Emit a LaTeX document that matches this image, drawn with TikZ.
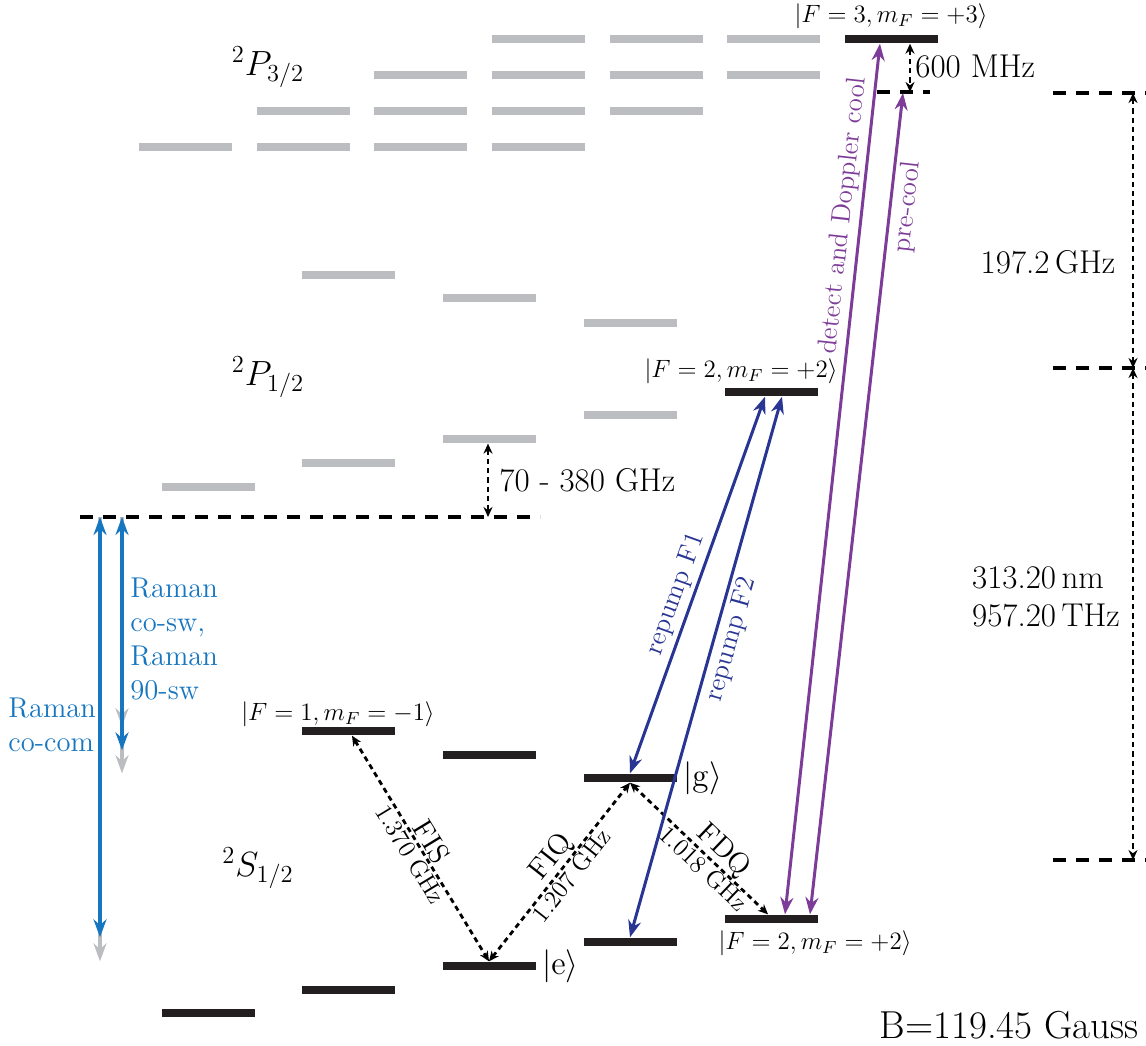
\RequirePackage{fix-cm}
\documentclass[tikz,border=0pt]{standalone}
\usepackage{tikz}
\usetikzlibrary{arrows.meta,positioning,calc}
\usepackage{xcolor}
\definecolor{levelgray}{HTML}{BBBDC0}
\definecolor{levelblack}{HTML}{231F20}
\definecolor{ramanblue}{HTML}{1776C0}
\definecolor{repumpblue}{HTML}{283593}
\definecolor{coolpurple}{HTML}{7D3C98}

\begin{document}
\begin{tikzpicture}[
  x=0.5pt, y=-0.5pt,
  font=\fontsize{12.5}{15}\selectfont,
  graylevel/.style={fill=levelgray, minimum width=46.5pt, minimum height=4.2pt, inner sep=0pt},
  blacklevel/.style={fill=levelblack, minimum width=46.5pt, minimum height=4.3pt, inner sep=0pt},
  levelline/.style={line width=1.8pt, dash pattern=on 6.5pt off 5pt},
  dimarrow/.style={line width=1.4pt, dash pattern=on 2.6pt off 2pt, >={Stealth[length=5pt,width=4.5pt]}, <->},
  raman/.style={ramanblue, line width=1.6pt, >={Stealth[length=9pt,width=6.5pt]}, <->},
  ramanghost/.style={levelgray, line width=1.6pt, >={Stealth[length=9pt,width=6.5pt]}, ->},
  repump/.style={repumpblue, line width=1.5pt, >={Stealth[length=8.5pt,width=6.5pt]}, <->},
  cooling/.style={coolpurple, line width=1.5pt, >={Stealth[length=8.5pt,width=6.5pt]}, <->},
  statelabel/.style={font=\fontsize{12.5}{15}\selectfont, inner sep=1pt},
  bigtext/.style={font=\fontsize{16.5}{19}\selectfont, inner sep=1pt},
  termlabel/.style={font=\fontsize{17.5}{20}\selectfont, inner sep=1pt},
  ramantext/.style={font=\fontsize{14.3}{17}\selectfont, text=ramanblue, align=left, inner sep=1pt},
  transname/.style={font=\fontsize{14.5}{16}\selectfont, inner sep=0.5pt, sloped},
  transfreq/.style={font=\fontsize{12.3}{14}\selectfont, inner sep=0.5pt, sloped},
  repumplabel/.style={font=\fontsize{13.5}{16}\selectfont, text=repumpblue, inner sep=2pt, sloped},
  coollabel/.style={font=\fontsize{13.5}{16}\selectfont, text=coolpurple, inner sep=2pt, sloped}
]
\useasboundingbox (0,0) rectangle (1146,1045);

\node[graylevel] (pa1) at (185,147) {};
\node[graylevel] (pb1) at (303,147) {};
\node[graylevel] (pb2) at (303,111) {};
\node[graylevel] (pc1) at (420,147) {};
\node[graylevel] (pc2) at (420,111) {};
\node[graylevel] (pc3) at (420,75) {};
\node[graylevel] (pd1) at (538,147) {};
\node[graylevel] (pd2) at (538,111) {};
\node[graylevel] (pd3) at (538,75) {};
\node[graylevel] (pd4) at (538,39) {};
\node[graylevel] (pe2) at (656,111) {};
\node[graylevel] (pe3) at (656,75) {};
\node[graylevel] (pe4) at (656,39) {};
\node[graylevel] (pf3) at (773,75) {};
\node[graylevel] (pf4) at (773,39) {};
\node[blacklevel] (pgtop) at (891,39) {};

\node[graylevel] (qa) at (208,487) {};
\node[graylevel] (qb1) at (348,463) {};
\node[graylevel] (qb2) at (348,275) {};
\node[graylevel] (qc1) at (489,439) {};
\node[graylevel] (qc2) at (489,298) {};
\node[graylevel] (qd1) at (630,415) {};
\node[graylevel] (qd2) at (630,323) {};
\node[blacklevel] (qtop) at (771,392) {};

\node[blacklevel] (sa) at (208,1013) {};
\node[blacklevel] (sb1) at (348,990) {};
\node[blacklevel] (sb2) at (348,731) {};
\node[blacklevel] (se) at (489,966) {};
\node[blacklevel] (sc2) at (489,755) {};
\node[blacklevel] (sd1) at (630,942) {};
\node[blacklevel] (sg) at (630,778) {};
\node[blacklevel] (sf) at (771,919) {};

\node[statelabel] (lblF3) at (891,16) {$|F=3,m_F=+3\rangle$};
\node[statelabel] (lblF2up) at (741,371) {$|F=2,m_F=+2\rangle$};
\node[statelabel] (lblF1) at (338,714) {$|F=1,m_F=-1\rangle$};
\node[statelabel] (lblF2dn) at (815,943) {$|F=2,m_F=+2\rangle$};
\node[bigtext, right=2pt of se] (kete) {$|\mathrm{e}\rangle$};
\node[bigtext, right=2pt of sg] (ketg) {$|\mathrm{g}\rangle$};

\node[termlabel] (tP32) at (268,67) {${}^2P_{3/2}$};
\node[termlabel] (tP12) at (268,377) {${}^2P_{1/2}$};
\node[termlabel] (tS12) at (258,868) {${}^2S_{1/2}$};

\coordinate (virtL) at (80,517);
\coordinate (virtR) at (540,517);
\coordinate (virtMid) at (488,517);
\coordinate (fsL) at (877,92);
\coordinate (fsR) at (930,92);
\coordinate (fsMid) at (910,92);
\coordinate (fsTip) at (903,93);
\coordinate (refP32L) at (1053,93);
\coordinate (refP32R) at (1146,93);
\coordinate (refP12L) at (1053,368);
\coordinate (refP12R) at (1146,368);
\coordinate (refS12L) at (1053,860);
\coordinate (refS12R) at (1146,860);
\coordinate (dP32) at (1133,93);
\coordinate (dP12) at (1133,368);
\coordinate (dS12) at (1133,860);
\coordinate (ramA) at (100,517);
\coordinate (ramB) at (122,517);

\draw[levelline] (virtL) -- (virtR);
\draw[levelline] (fsL) -- (fsR);
\draw[levelline] (refP32L) -- (refP32R);
\draw[levelline] (refP12L) -- (refP12R);
\draw[levelline] (refS12L) -- (refS12R);

\draw[dimarrow] (pgtop.south -| fsMid) -- (fsMid);
\draw[dimarrow] (qc1.south -| virtMid) -- (virtMid);
\draw[dimarrow] (dP32) -- (dP12);
\draw[dimarrow] (dP12) -- (dS12);

\node[bigtext, anchor=west] (lbl600) at (913,66) {600 MHz};
\node[bigtext, anchor=west] (lbl70) at (497,480) {70 - 380 GHz};
\node[bigtext] (lbl197) at (1048,262) {197.2\,GHz};
\node[bigtext, align=left] (lbl313) at (1046,597) {313.20\,nm\\957.20\,THz};
\node[bigtext, anchor=east, font=\fontsize{19.5}{22}\selectfont] (lblB) at (1141,1025) {B=119.45 Gauss};

\draw[ramanghost] (ramB) -- (ramB |- sb2.north);
\draw[ramanghost] (ramB) -- (ramB |- sg.north);
\draw[ramanghost] (ramA) -- (ramA |- se.north);
\draw[raman] (ramA) -- (ramA |- sd1.north);
\draw[raman] (ramB) -- (ramB |- sc2.north);
\node[ramantext, anchor=west] (lblcosw) at (128,639) {Raman\\co-sw,\\Raman\\90-sw};
\node[ramantext, anchor=west] (lblcocom) at (6,725) {Raman\\co-com};

\draw[dimarrow] ([xshift=2pt]sb2.south) -- node[transname, above] {FIS} node[transfreq, below] {1.370 GHz} (se.north);
\draw[dimarrow] (se.north) -- node[transname, above, pos=0.53] {FIQ} node[transfreq, below, pos=0.52] {1.207 GHz} (sg.south);
\draw[dimarrow] (sg.south) -- node[transname, above, pos=0.6] {FDQ} node[transfreq, below, pos=0.59] {1.018 GHz} ([xshift=-1.5pt]sf.north);

\draw[repump] (sg.north) -- node[repumplabel, above, pos=0.46] {repump F1} ([xshift=-3pt]qtop.south);
\draw[repump] (sd1.north) -- node[repumplabel, below, pos=0.56] {repump F2} ([xshift=5.5pt]qtop.south);

\draw[cooling] ([xshift=7pt]sf.north) -- node[coollabel, above, pos=0.8] {detect and Doppler cool} ([xshift=-5.5pt]pgtop.south);
\draw[cooling] ([xshift=19.5pt]sf.north) -- node[coollabel, below, pos=0.864] {pre-cool} (fsTip);

\end{tikzpicture}
\end{document}
